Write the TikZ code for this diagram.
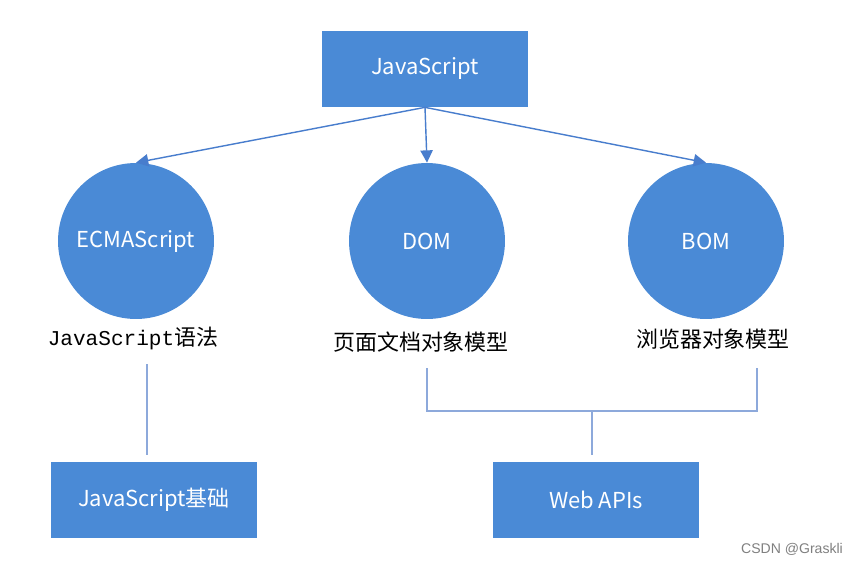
\documentclass[tikz,border=0pt]{standalone}
\usepackage{fontspec}
\setmainfont{Noto Sans CJK SC}
\setmonofont{Liberation Mono}
\setsansfont{Liberation Sans}
\usetikzlibrary{arrows.meta}
\definecolor{jsblue}{RGB}{74,138,214}
\definecolor{arrowblue}{RGB}{72,125,205}
\definecolor{lineblue}{RGB}{141,169,219}
\tikzset{
  jsbox/.style={rectangle,fill=jsblue,text=white,minimum width=4.12cm,minimum height=1.52cm,inner sep=0pt,font=\fontsize{12.5}{15}\selectfont},
  jscircle/.style={circle,fill=jsblue,text=white,minimum size=3.12cm,inner sep=0pt,font=\fontsize{12.5}{15}\selectfont},
  desc/.style={inner sep=1pt,font=\fontsize{12.5}{15}\selectfont},
  conn/.style={draw=arrowblue,line width=0.8pt,-{Triangle[length=7pt,width=7pt]}},
  bracketline/.style={draw=lineblue,line width=1.1pt}
}
\begin{document}
\begin{tikzpicture}[x=0.02cm,y=-0.02cm]
  \fill[white] (0,0) rectangle (851,565);
  \node[jsbox] (js) at (425,69) {JavaScript};
  \node[jscircle] (ecma) at (136,241) {ECMAScript};
  \node[jscircle] (dom) at (427,241) {DOM};
  \node[jscircle] (bom) at (706,241) {BOM};
  \node[desc] (ecmatxt) at (133,338) {\texttt{\fontsize{12}{15}\selectfont JavaScript}语法};
  \node[desc] (domtxt) at (421,342) {页面文档对象模型};
  \node[desc] (bomtxt) at (713,339) {浏览器对象模型};
  \node[jsbox] (jsbase) at (154,500) {JavaScript基础};
  \node[jsbox] (webapi) at (596,500) {Web APIs};
  \node[text=gray,font=\fontsize{8}{10}\selectfont\sffamily] (mark) at (792,549) {CSDN @Graskli};
  \draw[conn] (js.south) -- (ecma.north);
  \draw[conn] (js.south) -- (dom.north);
  \draw[conn] (js.south) -- (bom.north);
  \coordinate (c1) at (147,364);
  \coordinate (c2) at (427,368);
  \coordinate (c3) at (757,368);
  \coordinate (c4) at (592,411);
  \draw[bracketline,shorten >=0.14cm] (c1) -- (c1 |- jsbase.north);
  \draw[bracketline] (c2) -- (c2 |- c4) -- (c3 |- c4) -- (c3);
  \draw[bracketline,shorten >=0.14cm] (c4) -- (c4 |- webapi.north);
\end{tikzpicture}
\end{document}
